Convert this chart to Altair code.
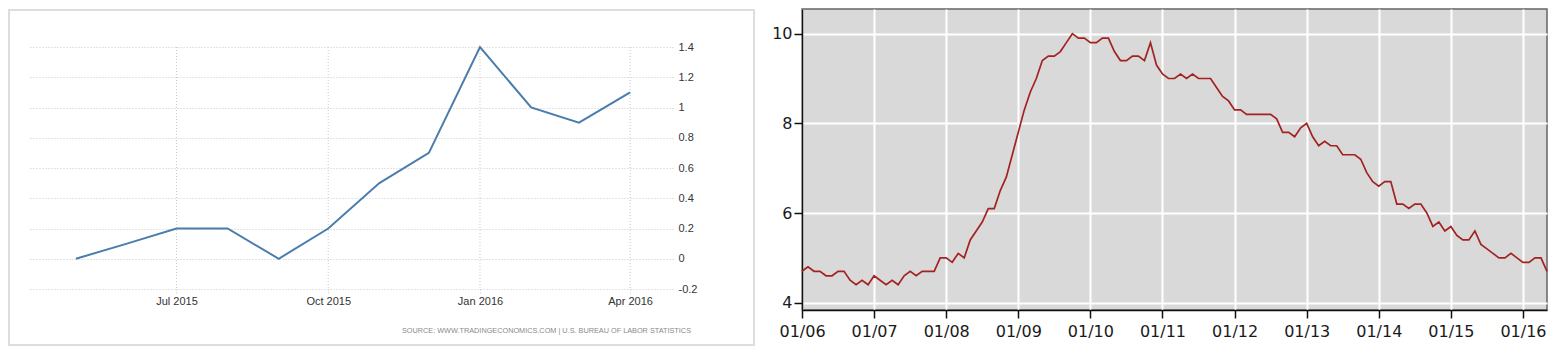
import altair as alt
import pandas as pd

# ---------------- Left panel: US inflation rate (YoY, %) ----------------
cpi_dates = ["2015-05-01", "2015-06-01", "2015-07-01", "2015-08-01", "2015-09-01",
             "2015-10-01", "2015-11-01", "2015-12-01", "2016-01-01", "2016-02-01",
             "2016-03-01", "2016-04-01"]
cpi_values = [0.0, 0.1, 0.2, 0.2, 0.0, 0.2, 0.5, 0.7, 1.4, 1.0, 0.9, 1.1]
cpi_ticks = [-0.2, 0, 0.2, 0.4, 0.6, 0.8, 1, 1.2, 1.4]
cpi_tick_dates = ["2015-07-01", "2015-10-01", "2016-01-01", "2016-04-01"]
source_text = "SOURCE: WWW.TRADINGECONOMICS.COM | U.S.  BUREAU OF LABOR STATISTICS"

# ---------------- Right panel: US unemployment rate (%) ----------------
u2006 = [4.7, 4.8, 4.7, 4.7, 4.6, 4.6, 4.7, 4.7, 4.5, 4.4, 4.5, 4.4]
u2007 = [4.6, 4.5, 4.4, 4.5, 4.4, 4.6, 4.7, 4.6, 4.7, 4.7, 4.7, 5.0]
u2008 = [5.0, 4.9, 5.1, 5.0, 5.4, 5.6, 5.8, 6.1, 6.1, 6.5, 6.8, 7.3]
u2009 = [7.8, 8.3, 8.7, 9.0, 9.4, 9.5, 9.5, 9.6, 9.8, 10.0, 9.9, 9.9]
u2010 = [9.8, 9.8, 9.9, 9.9, 9.6, 9.4, 9.4, 9.5, 9.5, 9.4, 9.8, 9.3]
u2011 = [9.1, 9.0, 9.0, 9.1, 9.0, 9.1, 9.0, 9.0, 9.0, 8.8, 8.6, 8.5]
u2012 = [8.3, 8.3, 8.2, 8.2, 8.2, 8.2, 8.2, 8.1, 7.8, 7.8, 7.7, 7.9]
u2013 = [8.0, 7.7, 7.5, 7.6, 7.5, 7.5, 7.3, 7.3, 7.3, 7.2, 6.9, 6.7]
u2014 = [6.6, 6.7, 6.7, 6.2, 6.2, 6.1, 6.2, 6.2, 6.0, 5.7, 5.8, 5.6]
u2015 = [5.7, 5.5, 5.4, 5.4, 5.6, 5.3, 5.2, 5.1, 5.0, 5.0, 5.1, 5.0]
u2016 = [4.9, 4.9, 5.0, 5.0, 4.7]
unemp_years = [2006, 2007, 2008, 2009, 2010, 2011, 2012, 2013, 2014, 2015, 2016]
unemp_series = [u2006, u2007, u2008, u2009, u2010, u2011, u2012, u2013, u2014, u2015, u2016]
unemp_ticks = [4, 6, 8, 10]

# ---------------- Left chart ----------------
cpi_df = pd.DataFrame({"date": cpi_dates, "value": cpi_values})
tick_df = pd.DataFrame({"date": cpi_tick_dates})

grid_col = "#c8c8c8"
x_scale = alt.Scale(type="utc",
                    domain=[alt.DateTime(year=2015, month=4, date=2, utc=True),
                            alt.DateTime(year=2016, month=4, date=27, utc=True)])
y_scale = alt.Scale(domain=[-0.2, 1.4], nice=False, zero=False, range=[280, 38])

left_x = alt.X(
    "date:T", scale=x_scale,
    axis=alt.Axis(
        values=[alt.DateTime(year=int(d[:4]), month=int(d[5:7]), date=1, utc=True)
                for d in cpi_tick_dates],
        labelExpr="utcFormat(datum.value, '%b %Y')",
        title=None, domain=False, grid=False,
        ticks=True, tickColor=grid_col, tickDash=[1, 2], tickSize=5, tickWidth=1,
        labelFont="Liberation Sans", labelFontSize=11, labelColor="#333333",
        labelPadding=1,
    ),
)
left_y = alt.Y(
    "value:Q", scale=y_scale,
    axis=alt.Axis(
        orient="right", values=cpi_ticks, labelExpr="toString(datum.value)",
        title=None, domain=False, ticks=False,
        grid=True, gridColor=grid_col, gridDash=[1, 2], gridWidth=1,
        labelFont="Liberation Sans", labelFontSize=11, labelColor="#333333",
        labelPadding=5, labelAlign="left",
    ),
)

left_vgrid = alt.Chart(tick_df).mark_rule(
    color=grid_col, strokeDash=[1, 2], strokeWidth=1
).encode(
    x=alt.X("date:T", scale=x_scale), y=alt.value(38), y2=alt.value(280)
)
left_line = alt.Chart(cpi_df).mark_line(color="#4a7dab", strokeWidth=2).encode(
    x=left_x, y=left_y
)
left_border = alt.Chart(pd.DataFrame({"k": [0]})).mark_rect(
    fillOpacity=0, stroke="#dddddd", strokeWidth=2
).encode(
    x=alt.value(-19), x2=alt.value(726), y=alt.value(1), y2=alt.value(336)
)
left_source = alt.Chart(pd.DataFrame({"t": [source_text]})).mark_text(
    align="right", baseline="middle", font="Liberation Sans", fontSize=7.3,
    color="#8a8a8a"
).encode(
    text="t:N", x=alt.value(663), y=alt.value(322)
)
left = alt.layer(left_border, left_vgrid, left_line, left_source).properties(
    width=645, height=280,
    view=alt.ViewBackground(fill="#ffffff", strokeOpacity=0),
)

# ---------------- Right chart ----------------
rows = []
for yr, vals in zip(unemp_years, unemp_series):
    for i, v in enumerate(vals):
        rows.append({"t": yr + i / 12.0, "rate": v})
unemp_df = pd.DataFrame(rows)

right = alt.Chart(unemp_df).mark_line(color="#a32222", strokeWidth=1.7).encode(
    x=alt.X(
        "t:Q",
        scale=alt.Scale(domain=[2006, 2016 + 4 / 12], nice=False, zero=False),
        axis=alt.Axis(
            values=unemp_years,
            labelExpr="'01/' + substring(toString(datum.value), 2, 4)",
            title=None,
            grid=True, gridColor="#ffffff", gridWidth=2, gridOpacity=1,
            domain=True, domainColor="#111111", domainWidth=1.5,
            ticks=True, tickColor="#111111", tickWidth=1.5, tickSize=8,
            labelFont="DejaVu Sans", labelFontSize=16, labelColor="#1a1a1a",
            labelPadding=5, labelFlush=False,
        ),
    ),
    y=alt.Y(
        "rate:Q",
        scale=alt.Scale(domain=[3.837, 10.55], nice=False, zero=False),
        axis=alt.Axis(
            values=unemp_ticks, title=None,
            grid=True, gridColor="#ffffff", gridWidth=2, gridOpacity=1,
            domain=True, domainColor="#111111", domainWidth=1.5,
            ticks=True, tickColor="#111111", tickWidth=1.5, tickSize=8,
            labelFont="DejaVu Sans", labelFontSize=16, labelColor="#1a1a1a",
            labelPadding=2,
        ),
    ),
).properties(
    width=745, height=301,
    view=alt.ViewBackground(fill="#d9d9d9", stroke="#666666", strokeWidth=1.5),
)

chart = alt.hconcat(left, right, spacing=15).properties(padding=0)

chart.save("out.html", embed_options={"renderer": "svg", "actions": False})
